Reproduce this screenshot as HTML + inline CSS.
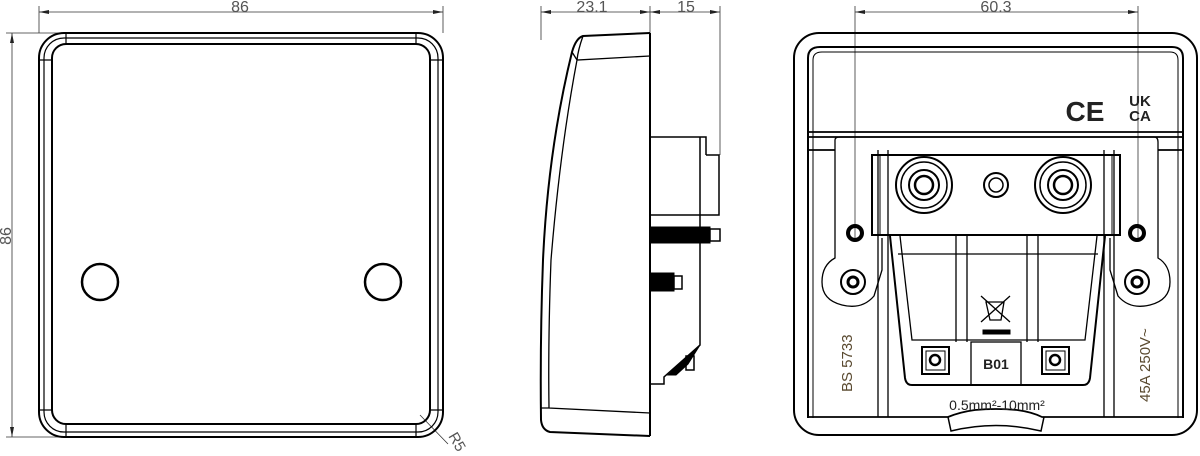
<!DOCTYPE html>
<html><head><meta charset="utf-8"><style>
html,body{margin:0;padding:0;background:#fff;width:1200px;height:456px;overflow:hidden}
svg{display:block}
text{font-family:"Liberation Sans",sans-serif}
</style></head><body>
<svg width="1200" height="456" viewBox="0 0 1200 456" xmlns="http://www.w3.org/2000/svg">
<defs>
<marker id="a" markerWidth="10" markerHeight="6" refX="10" refY="3" orient="auto-start-reverse" markerUnits="userSpaceOnUse"><path d="M0,1 L10,3 L0,5 z" fill="#222"/></marker>
</defs>
<g fill="none" stroke="#000">
<!-- LEFT VIEW -->
<g stroke-width="0.8" stroke="#333">
<line x1="39" y1="6" x2="39" y2="33"/><line x1="443" y1="6" x2="443" y2="33"/>
<line x1="39" y1="12" x2="443" y2="12" marker-start="url(#a)" marker-end="url(#a)"/>
<line x1="6" y1="33" x2="60" y2="33"/><line x1="6" y1="437" x2="60" y2="437"/>
<line x1="12" y1="33" x2="12" y2="437" marker-start="url(#a)" marker-end="url(#a)"/>
<line x1="420" y1="415" x2="448" y2="444"/>
</g>
<rect x="39" y="33" width="404" height="404" rx="25" stroke-width="2"/>
<rect x="44" y="38" width="394" height="394" rx="20" stroke-width="1.2"/>
<rect x="52" y="44" width="378" height="380" rx="14" stroke-width="2"/>
<path d="M66,33 V44 M416,33 V44 M66,424 V437 M416,424 V437 M39,60 H52 M430,60 H443 M39,410 H52 M430,410 H443" stroke-width="1.2"/>
<circle cx="100" cy="282" r="18" stroke-width="2.5"/>
<circle cx="383" cy="282" r="18" stroke-width="2.5"/>

<!-- MIDDLE VIEW -->
<g stroke-width="0.8" stroke="#333">
<line x1="541" y1="6" x2="541" y2="40"/><line x1="650" y1="6" x2="650" y2="33"/><line x1="720" y1="6" x2="720" y2="155"/>
<line x1="541" y1="12" x2="650" y2="12" marker-start="url(#a)" marker-end="url(#a)"/>
<line x1="650" y1="12" x2="720" y2="12" marker-start="url(#a)" marker-end="url(#a)"/>
</g>
<path d="M650,33 L583,36 Q576,38 572,52 Q548,150 543,260 Q540,340 541,420 Q542,430 550,432 L650,436" stroke-width="2"/>
<path d="M583,36 Q578,50 577,60 L650,56 M572,52 L577,60 M577,60 Q560,150 551,260 Q548,340 549,408 L650,413 M541,408 L549,408" stroke-width="1.3"/>
<line x1="650" y1="33" x2="650" y2="436" stroke-width="2"/>
<path d="M650,137 H706 V155 M700,137 V345 L664,377 V384 H650 M706,155 H719 V215 H650 M700,155 V215" stroke-width="1.5"/>
<rect x="650" y="227" width="60" height="16" fill="#000"/>
<rect x="710" y="229" width="10" height="12" stroke-width="1.5"/>
<rect x="650" y="273" width="24" height="18" fill="#000"/>
<rect x="674" y="276" width="8" height="13" stroke-width="1.5"/>
<path d="M700,345 L668,375 L676,375 L688,364 Z" fill="#000"/>
<rect x="686" y="356" width="8" height="14" stroke-width="1.5"/>

<!-- RIGHT VIEW -->
<g stroke-width="0.8" stroke="#333">
<line x1="855" y1="6" x2="855" y2="240"/><line x1="1138" y1="6" x2="1138" y2="240"/>
<line x1="855" y1="12" x2="1138" y2="12" marker-start="url(#a)" marker-end="url(#a)"/>
</g>
<rect x="794" y="33" width="403" height="402" rx="25" stroke-width="2"/>
<path d="M808,418 V58 Q808,47 820,47 H1172 Q1183,47 1183,58 V418" stroke-width="2"/>
<path d="M813,418 V60 Q813,52 822,52 H1170 Q1178,52 1178,60 V418" stroke-width="1"/>
<path d="M808,132 H1183 M808,137 H1183 M808,150 H835 M1158,150 H1183" stroke-width="1.8"/>
<path d="M808,417 H948 Q960,412 975,410 Q996,408 1017,410 Q1032,412 1042,417 H1183" stroke-width="1.8"/>
<path d="M948,417 L951,431 Q996,420 1041,431 L1044,417" stroke-width="1.5"/>
<path d="M835,140 Q835,137 840,137 H1154 Q1158,137 1158,142 V258 Q1170,265 1170,282 Q1170,300 1150,305 Q1130,310 1118,296 L1110,270 V238" stroke-width="1.3"/>
<path d="M835,140 V258 Q822,265 822,282 Q822,300 842,305 Q862,310 874,296 L882,270 V238" stroke-width="1.3"/>
<path d="M878,150 V417 M888,150 V417 M1104,150 V417 M1114,150 V417" stroke-width="1.3"/>
<rect x="872" y="155" width="248" height="80" stroke-width="2"/>
<path d="M880,155 V235 M1112,155 V235" stroke-width="1"/>
<circle cx="924" cy="185" r="28" stroke-width="2"/><circle cx="924" cy="185" r="23" stroke-width="1.5"/><circle cx="924" cy="185" r="15" stroke-width="2"/><circle cx="924" cy="185" r="9" stroke-width="2.5"/>
<circle cx="1063" cy="185" r="28" stroke-width="2"/><circle cx="1063" cy="185" r="23" stroke-width="1.5"/><circle cx="1063" cy="185" r="15" stroke-width="2"/><circle cx="1063" cy="185" r="9" stroke-width="2.5"/>
<circle cx="996" cy="185" r="12" stroke-width="2"/><circle cx="996" cy="185" r="7" stroke-width="1.5"/>
<circle cx="855" cy="233" r="7" stroke-width="4"/><circle cx="1137" cy="233" r="7" stroke-width="4"/>
<circle cx="853" cy="282" r="12" stroke-width="2"/><circle cx="853" cy="282" r="5" stroke-width="3"/>
<circle cx="1137" cy="282" r="12" stroke-width="2"/><circle cx="1137" cy="282" r="5" stroke-width="3"/>
<path d="M890,236 L905,378 Q906,385 912,385 H1083 Q1089,385 1090,378 L1105,236" stroke-width="2"/>
<path d="M900,236 L912,340 H1085 L1097,236 M898,254 H1098 M956,236 V342 M967,236 V342 M1027,236 V342 M1038,236 V342" stroke-width="1.3"/>
<rect x="922" y="347" width="27" height="27" stroke-width="2"/><rect x="926" y="351" width="19" height="19" stroke-width="1"/><circle cx="935" cy="360" r="5" stroke-width="2.5"/>
<rect x="1042" y="347" width="27" height="27" stroke-width="2"/><rect x="1046" y="351" width="19" height="19" stroke-width="1"/><circle cx="1055" cy="360" r="5" stroke-width="2.5"/>
<rect x="971" y="342" width="50" height="43" stroke-width="1.3"/>
<path d="M981,296 L1010,322 M1010,296 L981,322 M986,302 H1004 L1001,320 H990 Z" stroke-width="1.3"/>
<rect x="983" y="330" width="27" height="4" fill="#000"/>
</g>
<g fill="#222">
<text x="240" y="12" font-size="16" text-anchor="middle" fill="#555">86</text>
<text transform="translate(11,236) rotate(-90)" font-size="16" text-anchor="middle" fill="#555">86</text>
<text transform="translate(448,436) rotate(60)" font-size="15" fill="#555">R5</text>
<text x="592" y="12" font-size="16" text-anchor="middle" fill="#555">23.1</text>
<text x="686" y="12" font-size="16" text-anchor="middle" fill="#555">15</text>
<text x="996" y="12" font-size="16" text-anchor="middle" fill="#555">60.3</text>
<text x="1085" y="121" font-size="28" font-weight="bold" text-anchor="middle">CE</text>
<text x="1140" y="106" font-size="15" font-weight="bold" text-anchor="middle">UK</text>
<text x="1140" y="121" font-size="15" font-weight="bold" text-anchor="middle">CA</text>
<text x="996" y="369" font-size="14" font-weight="bold" text-anchor="middle">B01</text>
<text x="997" y="410" font-size="14" text-anchor="middle">0.5mm²-10mm²</text>
<text transform="translate(852,392) rotate(-90)" font-size="15" fill="#5a4a30">BS 5733</text>
<text transform="translate(1150,402) rotate(-90)" font-size="15" fill="#5a4a30">45A 250V~</text>
</g>
</svg>
</body></html>
